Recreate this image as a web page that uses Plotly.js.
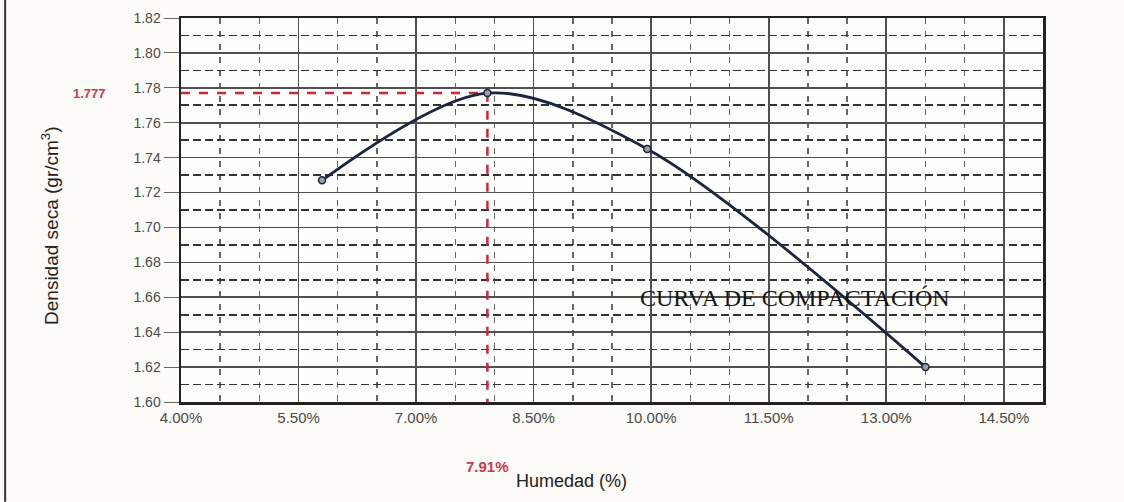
<!DOCTYPE html>
<html>
<head>
<meta charset="utf-8">
<script src="https://cdn.plot.ly/plotly-3.0.1.min.js"></script>
<style>
html,body{margin:0;padding:0;background:#fcfbf7;}
#chart{width:1124px;height:502px;}
</style>
</head>
<body>
<div id="chart"></div>
<script>
// Data
const humedad = [5.80, 7.91, 9.95, 13.50];          // %
const densidad = [1.727, 1.777, 1.745, 1.620];      // gr/cm3
const optHumedad = 7.91;
const maxDensidad = 1.777;
const xTickVals = [4.0, 5.5, 7.0, 8.5, 10.0, 11.5, 13.0, 14.5];
const yTickVals = [1.60, 1.62, 1.64, 1.66, 1.68, 1.70, 1.72, 1.74, 1.76, 1.78, 1.80, 1.82];
const xRange = [4.0, 15.0];
const yRange = [1.60, 1.82];
const curveLabel = "CURVA DE COMPACTACIÓN";
const xTitle = "Humedad (%)";
const yTitle = "Densidad seca (gr/cm<sup>3</sup>)";

const redRefX = [xRange[0], optHumedad, optHumedad];
const redRefY = [maxDensidad, maxDensidad, yRange[0]];

const traces = [
  {
    x: redRefX, y: redRefY, mode: 'lines', type: 'scatter',
    line: {color: '#c8283c', width: 2.5, dash: 'dash'},
    hoverinfo: 'skip', showlegend: false
  },
  {
    x: humedad, y: densidad, mode: 'lines+markers', type: 'scatter',
    line: {color: '#1a2540', width: 2.8, shape: 'spline', smoothing: 0.9},
    marker: {size: 7, color: '#9a9ea6', line: {color: '#1a2540', width: 1.5}},
    showlegend: false
  }
];

const sans = 'Liberation Sans, Arial, sans-serif';

const layout = {
  width: 1124, height: 502,
  margin: {l: 181, r: 81, t: 18, b: 100},
  paper_bgcolor: '#fcfbf7',
  plot_bgcolor: '#fefefc',
  showlegend: false,
  xaxis: {
    range: xRange,
    tickmode: 'array', tickvals: xTickVals,
    ticktext: xTickVals.map(v => v.toFixed(2) + '%'),
    tickfont: {family: sans, size: 15, color: '#4a4a4a'},
    showgrid: true, gridcolor: '#505050', gridwidth: 1.7,
    minor: {dtick: 0.5, tick0: 4.0, showgrid: true, gridcolor: '#666', gridwidth: 1.4, griddash: '6px,7px', ticks: ''},
    showline: true, linecolor: '#222', linewidth: 2.5, mirror: true,
    ticks: '', zeroline: false
  },
  yaxis: {
    range: yRange,
    tickmode: 'array', tickvals: yTickVals,
    ticktext: yTickVals.map(v => v.toFixed(2)),
    tickfont: {family: sans, size: 14, color: '#4a4a4a'},
    showgrid: true, gridcolor: '#505050', gridwidth: 1.7,
    minor: {dtick: 0.01, tick0: 1.60, showgrid: true, gridcolor: '#333', gridwidth: 1.7, griddash: '8px,4px', ticks: ''},
    showline: true, linecolor: '#222', linewidth: 2.5, mirror: true,
    ticks: 'outside', ticklen: 15, tickcolor: '#666', tickwidth: 1,
    zeroline: false
  },
  shapes: [
    {type: 'line', xref: 'paper', yref: 'paper', x0: -0.204, x1: -0.204, y0: -0.26, y1: 1.05,
     line: {color: '#333', width: 2}}
  ],
  annotations: [
    {xref: 'paper', yref: 'y', x: -0.106, y: maxDensidad, xanchor: 'center', yanchor: 'middle',
     text: maxDensidad.toFixed(3), showarrow: false,
     font: {family: sans, size: 13, color: '#d0394d', weight: 'bold'}},
    {xref: 'x', yref: 'paper', x: optHumedad, y: -0.169, xanchor: 'center', yanchor: 'middle',
     text: optHumedad.toFixed(2) + '%', showarrow: false,
     font: {family: sans, size: 15, color: '#d0394d', weight: 'bold'}},
    {xref: 'x', yref: 'y', x: 11.84, y: 1.6595, xanchor: 'center', yanchor: 'middle',
     text: curveLabel, showarrow: false,
     font: {family: 'Liberation Serif, Times New Roman, serif', size: 24, color: '#151515'}},
    {xref: 'paper', yref: 'paper', x: 0.453, y: -0.206, xanchor: 'center', yanchor: 'middle',
     text: xTitle, showarrow: false,
     font: {family: sans, size: 18, color: '#222'}},
    {xref: 'paper', yref: 'paper', x: -0.152, y: 0.461, xanchor: 'center', yanchor: 'middle',
     text: yTitle, showarrow: false, textangle: -90,
     font: {family: sans, size: 19, color: '#222'}}
  ]
};

Plotly.newPlot('chart', traces, layout, {staticPlot: true, displayModeBar: false});
</script>
</body>
</html>
